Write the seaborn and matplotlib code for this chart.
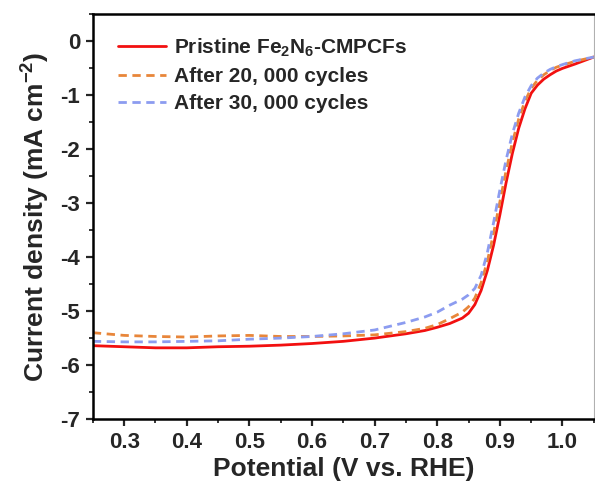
import matplotlib
matplotlib.use("Agg")
import matplotlib.pyplot as plt
from matplotlib.ticker import MultipleLocator
import numpy as np
import pandas as pd
import seaborn as sns

# Potential (V vs. RHE) sample points shared by all three LSV curves
potential = [0.25, 0.30, 0.35, 0.40, 0.45, 0.50, 0.55, 0.60, 0.65, 0.70, 0.75,
             0.78, 0.80, 0.82, 0.84, 0.85, 0.86, 0.87, 0.88, 0.89, 0.90, 0.91,
             0.92, 0.93, 0.94, 0.95, 0.96, 0.97, 0.98, 0.99, 1.00, 1.02, 1.05]

# Current density (mA cm^-2)
pristine = [-5.64, -5.66, -5.68, -5.68, -5.66, -5.65, -5.63, -5.60, -5.56, -5.50,
            -5.42, -5.36, -5.30, -5.23, -5.13, -5.04, -4.88, -4.62, -4.25, -3.78,
            -3.22, -2.62, -2.08, -1.62, -1.26, -0.97, -0.82, -0.71, -0.63, -0.56,
            -0.51, -0.43, -0.30]
after_20k = [-5.40, -5.45, -5.47, -5.48, -5.46, -5.45, -5.47, -5.47, -5.46, -5.44,
             -5.38, -5.32, -5.25, -5.14, -5.02, -4.92, -4.76, -4.48, -4.08, -3.56,
             -2.98, -2.40, -1.88, -1.45, -1.12, -0.88, -0.73, -0.63, -0.55, -0.49,
             -0.45, -0.38, -0.30]
after_30k = [-5.56, -5.57, -5.57, -5.56, -5.55, -5.52, -5.50, -5.47, -5.42, -5.35,
             -5.21, -5.11, -5.02, -4.89, -4.78, -4.70, -4.58, -4.34, -3.92, -3.36,
             -2.76, -2.20, -1.72, -1.34, -1.04, -0.83, -0.69, -0.60, -0.53, -0.48,
             -0.44, -0.37, -0.30]

labels = ["Pristine Fe$_2$N$_6$-CMPCFs", "After 20, 000 cycles", "After 30, 000 cycles"]
colors = ["#f21010", "#e8863a", "#8c9cf0"]

sns.set_style("ticks")
plt.rcParams["font.family"] = ["Liberation Sans", "DejaVu Sans"]
plt.rcParams["font.weight"] = "bold"
plt.rcParams["axes.unicode_minus"] = False
plt.rcParams["mathtext.fontset"] = "custom"
plt.rcParams["mathtext.rm"] = "Liberation Sans:bold"
plt.rcParams["mathtext.bf"] = "Liberation Sans:bold"
plt.rcParams["mathtext.default"] = "bf"

df = pd.DataFrame({
    "Potential": potential * 3,
    "Current": pristine + after_20k + after_30k,
    "Sample": [labels[0]] * len(potential) + [labels[1]] * len(potential)
              + [labels[2]] * len(potential),
})

fig = plt.figure(figsize=(5.95, 4.92), dpi=100)
ax = fig.add_axes([0.156, 0.148, 0.842, 0.824])

sns.lineplot(data=df, x="Potential", y="Current", hue="Sample", style="Sample",
             palette=dict(zip(labels, colors)),
             dashes={labels[0]: "", labels[1]: (3, 2), labels[2]: (3, 2)},
             linewidth=2.0, ax=ax, sort=False)

ax.set_xlim(0.25, 1.05)
ax.set_ylim(-7, 0.5)
ax.xaxis.set_minor_locator(MultipleLocator(0.05))
ax.yaxis.set_minor_locator(MultipleLocator(0.5))
xt = np.round(np.arange(0.3, 1.01, 0.1), 1)
ax.set_xticks(xt)
ax.set_xticklabels([f"{v:.1f}" for v in xt])
ax.set_yticks(range(-7, 1))
ax.set_yticklabels([str(v) for v in range(-7, 1)])

ax.tick_params(which="major", direction="out", length=5, width=1.6,
               labelsize=16, pad=4)
ax.tick_params(which="minor", direction="out", length=3, width=1.3)
for lab in ax.get_xticklabels() + ax.get_yticklabels():
    lab.set_fontweight("bold")

for side in ["left", "bottom", "top"]:
    ax.spines[side].set_linewidth(1.8)
    ax.spines[side].set_color("black")
ax.spines["right"].set_linewidth(0.8)
ax.spines["right"].set_color("#b0b0b0")

ax.set_xlabel("Potential (V vs. RHE)", fontsize=19, fontweight="bold", labelpad=3)
ax.set_ylabel("Current density (mA cm$^{-2}$)", fontsize=19, fontweight="bold",
              labelpad=6)

leg = ax.legend(loc="upper left", frameon=False, fontsize=15, handlelength=2.3,
                handletextpad=0.4, labelspacing=0.4, borderaxespad=0.0,
                bbox_to_anchor=(0.034, 0.965))
for t in leg.get_texts():
    t.set_fontweight("bold")

fig.savefig("out.png", dpi=100)
